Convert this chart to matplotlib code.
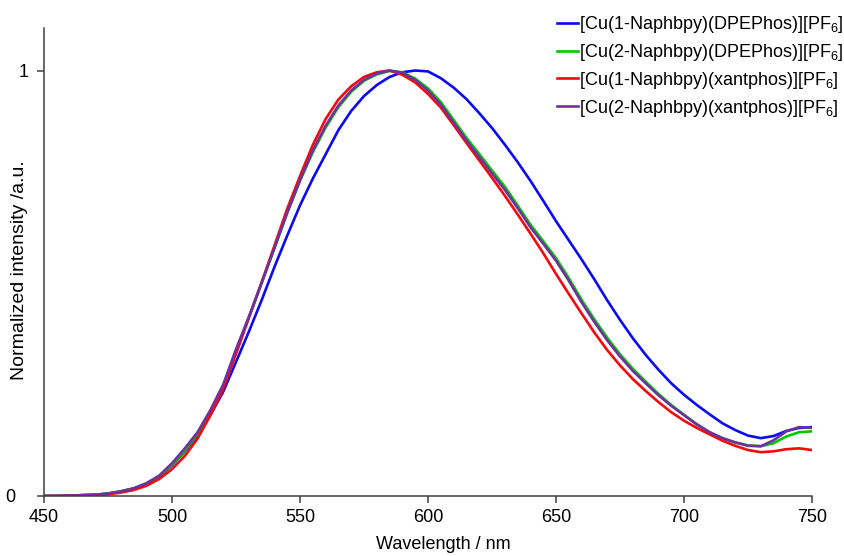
import matplotlib
matplotlib.use("Agg")
import matplotlib.pyplot as plt
from matplotlib.transforms import ScaledTranslation

plt.rcParams['font.family'] = ['Liberation Sans', 'DejaVu Sans']
plt.rcParams['mathtext.fontset'] = 'custom'
plt.rcParams['mathtext.rm'] = 'Liberation Sans'
plt.rcParams['mathtext.it'] = 'Liberation Sans:italic'

wavelength = [450, 455, 460, 465, 470, 475, 480, 485, 490, 495,
              500, 505, 510, 515, 520, 525, 530, 535, 540, 545,
              550, 555, 560, 565, 570, 575, 580, 585, 590, 595,
              600, 605, 610, 615, 620, 625, 630, 635, 640, 645,
              650, 655, 660, 665, 670, 675, 680, 685, 690, 695,
              700, 705, 710, 715, 720, 725, 730, 735, 740, 745, 750]

blue_1naph_dpephos = [0.000, 0.000, 0.001, 0.002, 0.003, 0.005, 0.010, 0.017, 0.028, 0.045,
                      0.072, 0.105, 0.143, 0.190, 0.245, 0.315, 0.386, 0.460, 0.538, 0.612,
                      0.683, 0.746, 0.803, 0.860, 0.905, 0.940, 0.966, 0.985, 0.996, 1.000,
                      0.998, 0.982, 0.960, 0.933, 0.900, 0.865, 0.826, 0.785, 0.741, 0.694,
                      0.646, 0.601, 0.556, 0.509, 0.460, 0.414, 0.371, 0.332, 0.297, 0.265,
                      0.238, 0.214, 0.192, 0.171, 0.155, 0.142, 0.136, 0.141, 0.153, 0.160, 0.162]

green_2naph_dpephos = [0.000, 0.000, 0.001, 0.002, 0.003, 0.006, 0.011, 0.018, 0.029, 0.046,
                       0.073, 0.107, 0.146, 0.197, 0.258, 0.340, 0.419, 0.500, 0.582, 0.665,
                       0.741, 0.808, 0.866, 0.914, 0.950, 0.976, 0.991, 0.999, 0.996, 0.981,
                       0.958, 0.926, 0.884, 0.842, 0.804, 0.765, 0.727, 0.683, 0.638, 0.599,
                       0.559, 0.512, 0.461, 0.415, 0.372, 0.333, 0.299, 0.269, 0.240, 0.214,
                       0.191, 0.169, 0.150, 0.136, 0.126, 0.119, 0.117, 0.124, 0.140, 0.150, 0.152]

red_1naph_xantphos = [0.000, 0.000, 0.0005, 0.001, 0.002, 0.004, 0.008, 0.014, 0.024, 0.040,
                      0.063, 0.094, 0.135, 0.190, 0.252, 0.334, 0.418, 0.502, 0.588, 0.675,
                      0.752, 0.825, 0.886, 0.932, 0.963, 0.985, 0.996, 1.000, 0.990, 0.972,
                      0.945, 0.913, 0.872, 0.830, 0.789, 0.748, 0.706, 0.662, 0.617, 0.571,
                      0.522, 0.475, 0.429, 0.384, 0.343, 0.307, 0.275, 0.247, 0.221, 0.197,
                      0.177, 0.160, 0.145, 0.130, 0.118, 0.108, 0.103, 0.105, 0.110, 0.112, 0.108]

purple_2naph_xantphos = [0.000, 0.000, 0.001, 0.002, 0.003, 0.006, 0.011, 0.018, 0.030, 0.048,
                         0.077, 0.112, 0.150, 0.202, 0.262, 0.345, 0.421, 0.501, 0.583, 0.666,
                         0.742, 0.812, 0.870, 0.918, 0.953, 0.978, 0.993, 1.000, 0.995, 0.978,
                         0.953, 0.920, 0.878, 0.836, 0.797, 0.758, 0.720, 0.677, 0.632, 0.593,
                         0.553, 0.506, 0.455, 0.409, 0.366, 0.328, 0.294, 0.265, 0.237, 0.212,
                         0.190, 0.168, 0.150, 0.136, 0.126, 0.118, 0.117, 0.131, 0.152, 0.162, 0.160]

labels = [r'[Cu(1-Naphbpy)(DPEPhos)][PF$_6$]',
          r'[Cu(2-Naphbpy)(DPEPhos)][PF$_6$]',
          r'[Cu(1-Naphbpy)(xantphos)][PF$_6$]',
          r'[Cu(2-Naphbpy)(xantphos)][PF$_6$]']
colors = ['#0A0AF5', '#00C800', '#F50A0A', '#7030A0']
series = [blue_1naph_dpephos, green_2naph_dpephos, red_1naph_xantphos, purple_2naph_xantphos]

x_ticks = [450, 500, 550, 600, 650, 700, 750]
y_ticks = [0, 1]

W, H = 845, 556
fig = plt.figure(figsize=(W / 100, H / 100), dpi=100)
ax = fig.add_axes([44 / W, (H - 496) / H, 768 / W, 468 / H])

for ys, c, lab in zip(series, colors, labels):
    ax.plot(wavelength, ys, color=c, lw=1.9, label=lab, solid_joinstyle='round')

ax.set_xlim(450, 750)
ax.set_ylim(0, 1.1)
ax.set_xticks(x_ticks)
ax.set_yticks(y_ticks)
ax.set_yticklabels(['0', '1'])
for s in ['top', 'right']:
    ax.spines[s].set_visible(False)
for s in ['left', 'bottom']:
    ax.spines[s].set_color('#404040')
    ax.spines[s].set_linewidth(1.1)
ax.tick_params(axis='both', direction='out', length=5, width=1.1, color='#404040',
               labelsize=13, labelcolor='black')
ax.tick_params(axis='y', pad=6)
ax.tick_params(axis='x', pad=4)

for lab in ax.get_yticklabels():
    if lab.get_text() == '0':
        lab.set_transform(lab.get_transform() + ScaledTranslation(-0.13, 0, fig.dpi_scale_trans))

ax.set_xlabel('Wavelength / nm', fontsize=13)
ax.xaxis.set_label_coords((443 - 44) / 768, (496 - 536) / 468)
ax.set_ylabel('Normalized intensity /a.u.', fontsize=14)
ax.yaxis.set_label_coords((28 - 44) / 768, (496 - 270) / 468)

leg = fig.legend(loc='upper left', bbox_to_anchor=(557 / W, 1 - 14 / H),
                 frameon=False, fontsize=13, handlelength=1.15, handletextpad=0.05,
                 labelspacing=0.38, borderaxespad=0, borderpad=0)

fig.savefig('out.png', dpi=100)
